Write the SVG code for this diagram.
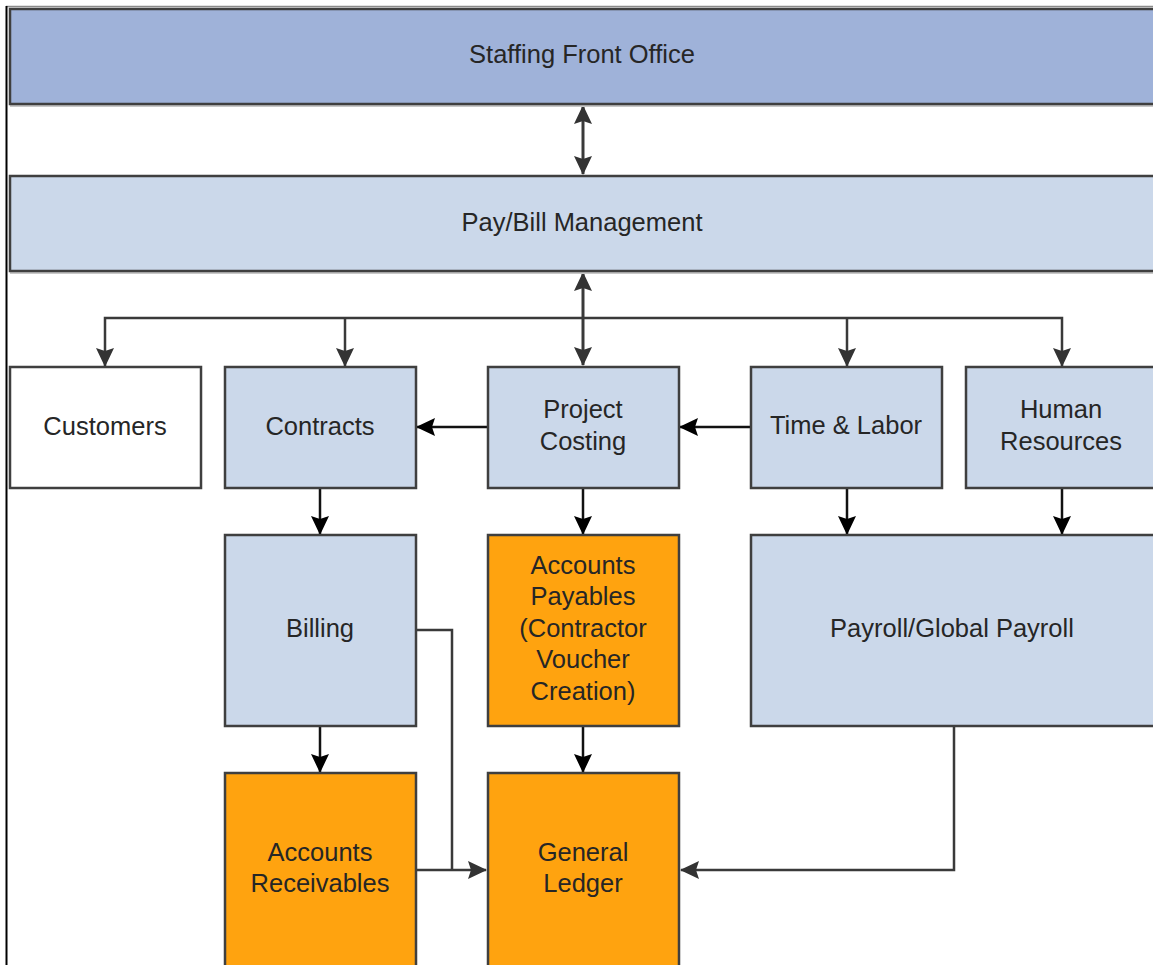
<svg xmlns="http://www.w3.org/2000/svg" width="1153" height="965" viewBox="0 0 1153 965">
<style>
.box{stroke:#3f3f3f;stroke-width:2.5}
.shadow{fill:none;stroke:#c8c8c8;stroke-width:2}
.dark{fill:#9fb2d9}
.light{fill:#cbd8ea}
.white{fill:#ffffff}
.orange{fill:#ffa30f}
text{font-family:"Liberation Sans",Arial,sans-serif;font-size:25.5px;fill:#262626;text-anchor:middle}
.c{fill:none;stroke:#3a3a3a;stroke-width:2.5}
.k{fill:none;stroke:#111;stroke-width:2.5}
</style>
<defs>
<marker id="ah" markerUnits="userSpaceOnUse" markerWidth="20" markerHeight="20" viewBox="0 0 20 20" refX="18" refY="10" orient="auto-start-reverse">
<path d="M0,1 L19,10 L0,19 L3,10 Z" fill="#333"/>
</marker>
<marker id="ahk" markerUnits="userSpaceOnUse" markerWidth="20" markerHeight="20" viewBox="0 0 20 20" refX="18" refY="10" orient="auto-start-reverse">
<path d="M0,1 L19,10 L0,19 L3,10 Z" fill="#000"/>
</marker>
</defs>
<rect width="1153" height="965" fill="#fff"/>
<line x1="6" y1="6.5" x2="1153" y2="6.5" stroke="#8a8a8a" stroke-width="1.5"/>
<line x1="6.5" y1="6" x2="6.5" y2="965" stroke="#000" stroke-width="2"/>

<g id="connectors">
<line class="c" x1="583" y1="106" x2="583" y2="174" marker-start="url(#ah)" marker-end="url(#ah)" style="stroke-width:3"/>
<line class="c" x1="583" y1="273" x2="583" y2="365" marker-start="url(#ah)" marker-end="url(#ah)" style="stroke-width:3"/>
<polyline class="c" points="105,366 105,318 1062,318 1062,366" marker-start="url(#ah)" marker-end="url(#ah)"/>
<line class="c" x1="345" y1="318" x2="345" y2="366" marker-end="url(#ah)"/>
<line class="c" x1="847" y1="318" x2="847" y2="366" marker-end="url(#ah)"/>
<line class="k" x1="488" y1="427" x2="417" y2="427" marker-end="url(#ahk)"/>
<line class="k" x1="751" y1="427" x2="680" y2="427" marker-end="url(#ahk)"/>
<line class="k" x1="320" y1="488" x2="320" y2="534" marker-end="url(#ahk)"/>
<line class="k" x1="583" y1="488" x2="583" y2="534" marker-end="url(#ahk)"/>
<line class="k" x1="847" y1="488" x2="847" y2="534" marker-end="url(#ahk)"/>
<line class="k" x1="1062" y1="488" x2="1062" y2="534" marker-end="url(#ahk)"/>
<line class="k" x1="320" y1="726" x2="320" y2="772" marker-end="url(#ahk)"/>
<line class="k" x1="583" y1="726" x2="583" y2="772" marker-end="url(#ahk)"/>
<polyline class="c" points="416,630 452,630 452,870"/>
<line class="c" x1="416" y1="870" x2="486" y2="870" marker-end="url(#ah)"/>
<polyline class="c" points="954,726 954,870 681,870" marker-end="url(#ah)"/>
</g>

<g id="staffing-front-office">
<rect class="shadow" x="11" y="11" width="1160" height="95"/>
<rect class="box dark" x="10" y="9" width="1160" height="95"/>
<text x="582" y="63">Staffing Front Office</text>
</g>
<g id="pay-bill-management">
<rect class="shadow" x="11" y="178" width="1160" height="95"/>
<rect class="box light" x="10" y="176" width="1160" height="95"/>
<text x="582" y="231">Pay/Bill Management</text>
</g>
<g id="customers">
<rect class="box white" x="10" y="367" width="191" height="121"/>
<text x="105" y="435">Customers</text>
</g>
<g id="contracts">
<rect class="box light" x="225" y="367" width="191" height="121"/>
<text x="320" y="435">Contracts</text>
</g>
<g id="project-costing">
<rect class="box light" x="488" y="367" width="191" height="121"/>
<text x="583" y="418">Project</text>
<text x="583" y="450">Costing</text>
</g>
<g id="time-labor">
<rect class="box light" x="751" y="367" width="191" height="121"/>
<text x="846" y="434">Time &amp; Labor</text>
</g>
<g id="human-resources">
<rect class="box light" x="966" y="367" width="191" height="121"/>
<text x="1061" y="418">Human</text>
<text x="1061" y="450">Resources</text>
</g>
<g id="billing">
<rect class="box light" x="225" y="535" width="191" height="191"/>
<text x="320" y="637">Billing</text>
</g>
<g id="accounts-payables">
<rect class="box orange" x="488" y="535" width="191" height="191"/>
<text x="583" y="574">Accounts</text>
<text x="583" y="605">Payables</text>
<text x="583" y="637">(Contractor</text>
<text x="583" y="668">Voucher</text>
<text x="583" y="700">Creation)</text>
</g>
<g id="payroll-global-payroll">
<rect class="box light" x="751" y="535" width="420" height="191"/>
<text x="952" y="637">Payroll/Global Payroll</text>
</g>
<g id="accounts-receivables">
<rect class="box orange" x="225" y="773" width="191" height="200"/>
<text x="320" y="861">Accounts</text>
<text x="320" y="892">Receivables</text>
</g>
<g id="general-ledger">
<rect class="box orange" x="488" y="773" width="191" height="200"/>
<text x="583" y="861">General</text>
<text x="583" y="892">Ledger</text>
</g>
</svg>
